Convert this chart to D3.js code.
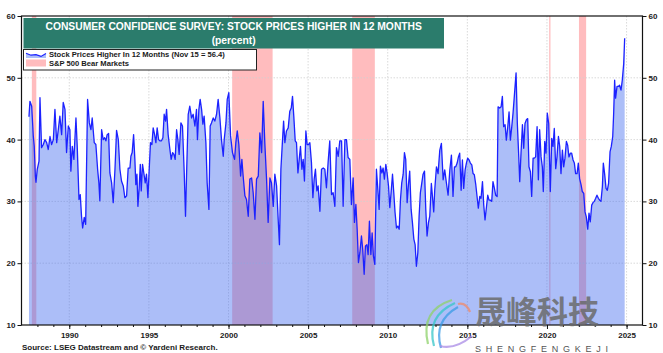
<!DOCTYPE html>
<html>
<head>
<meta charset="utf-8">
<script src="https://cdn.jsdelivr.net/npm/d3@7"></script>
<style>
  html, body { margin: 0; padding: 0; background: #ffffff; }
  svg { display: block; }
  text { font-family: "Liberation Sans", Arial, sans-serif; }
</style>
</head>
<body>
<svg id="chart" width="663" height="353"></svg>
<script>
// ---------------- DATA ----------------
const titleLines = ["CONSUMER CONFIDENCE SURVEY: STOCK PRICES HIGHER IN 12 MONTHS", "(percent)"];
const legendLabels = ["Stock Prices Higher In 12 Months (Nov 15 = 56.4)", "S&P 500 Bear Markets"];
const sourceText = "Source: LSEG Datastream and \u00A9 Yardeni Research.";
const yTicks = [10, 20, 30, 40, 50, 60];
const xTicks = [1990, 1995, 2000, 2005, 2010, 2015, 2020, 2025];
const xTickLabels = ["1990", "1995", "2000", "2005", "2010", "2015", "2020", "2025"];

// S&P 500 bear markets (decimal year start, end)
const bearMarkets = [
  [1987.65, 1987.93],
  [2000.23, 2002.77],
  [2007.77, 2009.19],
  [2020.14, 2020.22],
  [2022.01, 2022.46]
];

// Stock Prices Higher In 12 Months (percent), [decimal year, value]
const stockPricesHigher = [
[1987.47,43.7],[1987.53,46.2],[1987.64,45.4],[1987.74,40.6],[1987.80,38.9],[1987.87,34.1],[1987.91,33.1],[1987.99,35.2],[1988.10,36.5],[1988.16,46.8],[1988.26,38.7],[1988.37,39.2],[1988.47,40.0],[1988.58,39.5],[1988.68,38.4],[1988.79,40.5],[1988.89,39.2],[1989.00,40.0],[1989.10,44.9],[1989.21,39.5],[1989.31,41.6],[1989.41,43.8],[1989.52,40.8],[1989.62,46.0],[1989.73,44.9],[1989.83,37.9],[1989.94,42.2],
[1990.04,41.6],[1990.10,34.9],[1990.19,38.9],[1990.29,36.8],[1990.42,43.5],[1990.50,38.9],[1990.61,30.3],[1990.69,31.1],[1990.77,27.6],[1990.84,25.7],[1990.94,27.4],[1991.03,26.3],[1991.15,46.5],[1991.26,42.7],[1991.36,41.6],[1991.44,43.5],[1991.57,39.5],[1991.67,39.2],[1991.78,35.2],[1991.86,33.0],[1991.92,30.1],
[1992.03,41.6],[1992.13,40.0],[1992.22,40.3],[1992.30,39.8],[1992.38,40.8],[1992.47,41.0],[1992.55,34.6],[1992.66,33.0],[1992.76,29.8],[1992.87,35.2],[1992.97,41.5],[1993.08,40.0],[1993.18,35.2],[1993.28,33.3],[1993.39,32.5],[1993.49,30.6],[1993.60,30.9],[1993.70,35.4],[1993.81,35.4],[1993.87,37.3],[1993.95,37.9],
[1994.04,40.8],[1994.12,36.8],[1994.18,32.7],[1994.25,34.4],[1994.31,29.2],[1994.39,32.2],[1994.46,36.0],[1994.52,31.7],[1994.60,36.0],[1994.71,34.1],[1994.77,33.0],[1994.85,34.4],[1994.94,30.6],[1995.02,35.2],[1995.10,39.5],[1995.19,39.2],[1995.27,41.9],[1995.36,40.8],[1995.44,39.5],[1995.52,41.9],[1995.61,40.0],[1995.69,39.8],[1995.79,39.8],[1995.88,40.3],[1995.96,44.1],
[1996.05,43.0],[1996.11,44.9],[1996.21,40.8],[1996.32,38.4],[1996.40,36.8],[1996.49,37.9],[1996.57,37.6],[1996.65,36.8],[1996.74,41.6],[1996.82,40.0],[1996.90,37.6],[1997.01,42.7],[1997.11,42.2],[1997.22,34.6],[1997.30,27.6],[1997.38,35.7],[1997.47,44.1],[1997.57,45.4],[1997.68,43.5],[1997.78,44.1],[1997.89,42.2],[1997.99,44.9],
[1998.05,40.0],[1998.14,44.9],[1998.22,46.5],[1998.31,44.9],[1998.39,42.5],[1998.47,43.8],[1998.58,39.5],[1998.66,33.0],[1998.77,28.7],[1998.85,42.2],[1998.93,42.7],[1999.04,43.5],[1999.14,43.0],[1999.25,44.1],[1999.35,46.5],[1999.46,43.5],
[1999.56,40.0],[1999.67,37.3],[1999.73,40.0],[1999.84,42.7],[1999.92,46.5],[2000.02,47.6],[2000.13,40.6],[2000.25,37.9],[2000.38,36.8],[2000.46,39.5],[2000.55,41.4],[2000.65,39.2],[2000.76,34.1],[2000.84,36.8],[2000.92,34.1],[2001.03,30.9],[2001.13,30.3],[2001.24,27.6],[2001.34,33.6],[2001.45,33.8],[2001.55,31.4],[2001.66,27.1],[2001.76,33.6],[2001.87,34.1],[2001.97,41.1],
[2002.08,37.9],[2002.18,46.2],[2002.28,39.5],[2002.39,33.6],[2002.49,26.6],[2002.60,33.8],[2002.70,33.0],[2002.81,29.2],[2002.91,34.4],[2003.02,32.5],[2003.12,27.1],[2003.20,23.0],[2003.29,35.2],[2003.37,38.9],[2003.46,43.0],[2003.54,39.5],[2003.64,41.4],[2003.75,41.9],[2003.85,44.6],[2003.94,45.1],
[2004.02,47.0],[2004.10,43.8],[2004.19,39.8],[2004.27,39.5],[2004.36,34.6],[2004.44,36.8],[2004.52,38.9],[2004.61,35.2],[2004.69,36.8],[2004.77,33.3],[2004.86,41.4],[2004.94,39.2],[2005.02,39.2],[2005.11,39.5],[2005.21,36.3],[2005.30,30.6],[2005.38,33.6],[2005.46,35.2],[2005.55,31.7],[2005.63,32.5],[2005.74,28.4],[2005.84,35.2],[2005.95,35.4],
[2006.05,35.2],[2006.15,32.2],[2006.26,36.5],[2006.36,39.8],[2006.47,31.1],[2006.57,31.4],[2006.68,29.2],[2006.78,38.7],[2006.89,37.3],[2006.99,39.8],[2007.10,39.8],[2007.20,29.2],[2007.31,40.0],[2007.41,40.0],[2007.51,37.1],[2007.62,36.8],[2007.72,29.5],[2007.83,33.8],[2007.91,26.6],
[2008.00,29.5],[2008.08,25.5],[2008.16,20.1],[2008.25,21.7],[2008.35,24.4],[2008.43,22.2],[2008.52,18.2],[2008.60,22.8],[2008.69,23.0],[2008.77,21.4],[2008.85,26.8],[2008.94,21.4],[2009.02,24.9],[2009.10,21.2],[2009.19,19.8],[2009.29,35.2],[2009.38,31.9],[2009.46,28.7],[2009.54,35.7],[2009.63,34.6],[2009.71,35.4],[2009.79,33.6],[2009.88,36.0],[2009.96,34.6],
[2010.05,32.5],[2010.13,29.0],[2010.21,31.4],[2010.30,34.4],[2010.38,31.4],[2010.46,28.2],[2010.55,25.7],[2010.63,26.0],[2010.72,25.5],[2010.80,30.3],[2010.88,33.0],[2010.97,34.4],[2011.05,37.9],[2011.13,36.8],[2011.22,29.8],[2011.30,32.7],[2011.38,34.9],[2011.47,28.7],[2011.55,26.6],[2011.64,23.9],[2011.72,23.0],[2011.80,19.5],[2011.89,21.7],[2011.97,27.6],
[2012.05,31.4],[2012.14,33.0],[2012.22,34.4],[2012.31,34.9],[2012.39,28.7],[2012.47,24.4],[2012.56,26.6],[2012.64,27.6],[2012.74,32.9],[2012.89,28.3],[2012.95,31.8],[2013.06,35.6],[2013.16,34.5],[2013.27,38.3],[2013.37,39.4],[2013.48,33.5],[2013.58,35.1],[2013.69,32.9],[2013.79,31.0],[2013.90,35.1],
[2014.00,37.5],[2014.10,30.8],[2014.19,35.6],[2014.27,35.6],[2014.36,36.2],[2014.44,37.2],[2014.52,37.8],[2014.61,31.8],[2014.69,36.7],[2014.77,32.1],[2014.86,35.1],[2014.94,36.2],[2015.02,37.0],[2015.11,36.7],[2015.19,36.2],[2015.28,35.9],[2015.36,34.5],[2015.44,34.3],[2015.53,32.7],[2015.61,30.8],[2015.69,28.9],[2015.78,30.8],[2015.86,30.5],[2015.95,33.2],
[2016.03,29.4],[2016.11,27.0],[2016.20,29.1],[2016.28,31.0],[2016.36,30.2],[2016.45,30.2],[2016.53,30.0],[2016.61,33.2],[2016.70,32.1],[2016.78,31.0],[2016.87,30.8],[2016.93,45.3],[2017.03,45.1],[2017.12,45.3],[2017.20,47.0],[2017.28,42.1],[2017.37,42.4],[2017.45,39.9],[2017.54,42.1],[2017.62,44.5],[2017.70,39.9],[2017.79,42.1],[2017.87,44.3],[2017.95,47.0],
[2018.06,50.8],[2018.14,42.6],[2018.23,37.2],[2018.29,33.2],[2018.37,37.8],[2018.46,42.4],[2018.54,38.6],[2018.62,42.6],[2018.71,43.2],[2018.79,43.4],[2018.87,35.6],[2018.96,34.8],[2019.04,30.8],[2019.13,37.0],[2019.21,37.0],[2019.29,37.2],[2019.38,42.1],[2019.46,33.5],[2019.54,41.6],[2019.63,37.2],[2019.71,35.6],[2019.77,31.6],[2019.86,39.7],[2019.94,37.8],
[2020.02,44.3],[2020.11,42.6],[2020.21,31.6],[2020.30,40.2],[2020.38,38.9],[2020.46,41.8],[2020.55,35.3],[2020.63,37.2],[2020.72,40.5],[2020.80,38.9],[2020.88,34.5],[2020.97,38.3],[2021.05,35.6],[2021.13,37.0],[2021.22,39.7],[2021.30,39.1],[2021.38,37.2],[2021.47,37.8],[2021.55,37.8],[2021.64,36.7],[2021.72,36.2],[2021.80,34.5],[2021.89,34.5],[2021.97,36.2],
[2022.05,33.7],[2022.14,32.7],[2022.22,31.6],[2022.31,31.3],[2022.39,28.3],[2022.47,27.5],[2022.56,25.5],[2022.64,28.1],[2022.72,26.7],[2022.81,29.4],[2022.89,29.8],[2022.97,30.0],[2023.06,30.5],[2023.14,31.0],[2023.23,30.5],[2023.31,30.2],[2023.39,30.0],[2023.48,32.4],[2023.54,36.2],[2023.62,34.5],[2023.71,32.1],[2023.79,31.8],[2023.87,32.9],[2023.96,38.0],
[2024.04,38.9],[2024.13,40.5],[2024.19,44.3],[2024.25,49.6],[2024.31,46.7],[2024.40,48.6],[2024.48,48.6],[2024.56,48.8],[2024.65,48.0],[2024.73,49.6],[2024.82,52.3],[2024.88,56.4]
];

// ---------------- CHART ----------------
const svg = d3.select("#chart");
const plot = { left: 21.5, right: 642.5, top: 16, bottom: 325 };

const x = d3.scaleLinear().domain([1987, 2026]).range([plot.left, plot.right]);
const y = d3.scaleLinear().domain([10, 60]).range([plot.bottom, plot.top]);

const colors = {
  bear: "#ffbcbe",
  areaFill: "rgb(70,110,240)",
  areaOpacity: 0.45,
  line: "#1c22ff",
  grid: "#d0d0d0",
  title: "#2b7c6c",
  text: "#1a1a1a"
};

// bear market bands
svg.append("g").selectAll("rect").data(bearMarkets).join("rect")
  .attr("x", d => x(d[0]))
  .attr("width", d => Math.max(1.2, x(d[1]) - x(d[0])))
  .attr("y", plot.top)
  .attr("height", plot.bottom - plot.top)
  .attr("fill", colors.bear);

// gridlines
const grid = svg.append("g");
grid.selectAll("line.gy").data(yTicks.filter(t => t > 10 && t < 60)).join("line")
  .attr("x1", plot.left).attr("x2", plot.right)
  .attr("y1", d => y(d)).attr("y2", d => y(d))
  .attr("stroke", colors.grid).attr("stroke-width", 0.8).attr("stroke-dasharray", "1.5,1.5");
grid.selectAll("line.gx").data(xTicks).join("line")
  .attr("y1", plot.top).attr("y2", plot.bottom)
  .attr("x1", d => x(d)).attr("x2", d => x(d))
  .attr("stroke", colors.grid).attr("stroke-width", 0.8).attr("stroke-dasharray", "1.5,1.5");

// area + line
const area = d3.area().x(d => x(d[0])).y0(y(10)).y1(d => y(d[1]));
const line = d3.line().x(d => x(d[0])).y(d => y(d[1]));
svg.append("path").datum(stockPricesHigher)
  .attr("d", area).attr("fill", colors.areaFill).attr("fill-opacity", colors.areaOpacity);
svg.append("path").datum(stockPricesHigher)
  .attr("d", line).attr("fill", "none").attr("stroke", colors.line)
  .attr("stroke-width", 1.3).attr("stroke-linejoin", "round");

// frame
svg.append("rect")
  .attr("x", plot.left).attr("y", plot.top)
  .attr("width", plot.right - plot.left).attr("height", plot.bottom - plot.top)
  .attr("fill", "none").attr("stroke", "#111").attr("stroke-width", 1.2);

// axes
function styleAxis(g) {
  g.select(".domain").remove();
  g.selectAll("line").attr("stroke", "#111");
  g.selectAll("text").attr("fill", colors.text).style("font-size", "8px").style("font-weight", "bold")
    .style("font-family", "'Liberation Sans', Arial, sans-serif");
}
svg.append("g").attr("transform", `translate(${plot.left},0)`)
  .call(d3.axisLeft(y).tickValues(yTicks).tickSize(4).tickPadding(2).tickFormat(d3.format("d")))
  .call(styleAxis);
svg.append("g").attr("transform", `translate(${plot.right},0)`)
  .call(d3.axisRight(y).tickValues(yTicks).tickSize(4).tickPadding(2).tickFormat(d3.format("d")))
  .call(styleAxis);
svg.append("g").attr("transform", `translate(0,${plot.bottom})`)
  .call(d3.axisBottom(x).tickValues(d3.range(1988, 2026)).tickSize(2).tickFormat(""))
  .call(styleAxis);
svg.append("g").attr("transform", `translate(0,${plot.bottom})`)
  .call(d3.axisBottom(x).tickValues(xTicks).tickSize(4).tickPadding(3).tickFormat((d, i) => xTickLabels[i]))
  .call(styleAxis);

// title box
const titleG = svg.append("g");
titleG.append("rect").attr("x", 23.5).attr("y", 18).attr("width", 420.5).attr("height", 30.5).attr("fill", colors.title);
titleG.append("text").attr("x", 233.7).attr("y", 29.8).attr("text-anchor", "middle")
  .attr("fill", "#fff").style("font-size", "10.3px").style("font-weight", "bold").text(titleLines[0]);
titleG.append("text").attr("x", 233.7).attr("y", 43.6).attr("text-anchor", "middle")
  .attr("fill", "#fff").style("font-size", "10.3px").style("font-weight", "bold").text(titleLines[1]);

// legend
const legG = svg.append("g");
legG.append("rect").attr("x", 23.5).attr("y", 49.5).attr("width", 233).attr("height", 20.5)
  .attr("fill", "#fff").attr("stroke", "#222").attr("stroke-width", 1);
const sw = d3.scaleLinear().domain([0, 4]).range([26, 46]);
const swatchPts = [[0, 53.2], [1, 55.2], [2, 54.6], [3, 56.4], [4, 53.4]];
legG.append("path").datum(swatchPts)
  .attr("d", d3.area().x(d => sw(d[0])).y0(58).y1(d => d[1]))
  .attr("fill", colors.areaFill).attr("fill-opacity", colors.areaOpacity);
legG.append("path").datum(swatchPts)
  .attr("d", d3.line().x(d => sw(d[0])).y(d => d[1]))
  .attr("fill", "none").attr("stroke", colors.line).attr("stroke-width", 1.2);
legG.append("rect").attr("x", 26).attr("y", 59.5).attr("width", 20).attr("height", 7).attr("fill", colors.bear);
legG.append("text").attr("x", 49).attr("y", 57).attr("fill", colors.text)
  .style("font-size", "7.6px").style("font-weight", "bold").text(legendLabels[0]);
legG.append("text").attr("x", 49).attr("y", 65.6).attr("fill", colors.text)
  .style("font-size", "7.6px").style("font-weight", "bold").text(legendLabels[1]);

// source
svg.append("text").attr("x", 22).attr("y", 349.5).attr("fill", colors.text)
  .style("font-size", "8px").style("font-weight", "bold").text(sourceText);

// watermark (as in reference image)
const wm = svg.append("g");
const swirl = [
  { d: "M452,300 Q420,310 428,344", c: "#8ed16a" },
  { d: "M455,303 Q426,316 434,346", c: "#36c6c8" },
  { d: "M458,307 Q433,321 441,348", c: "#3a9be6" },
  { d: "M440,346 Q455,350 472,336", c: "#a98be6" },
  { d: "M458,304 Q466,302 470,312", c: "#f08a6a" }
];
wm.selectAll("path").data(swirl).join("path")
  .attr("d", d => d.d).attr("fill", "none").attr("stroke", d => d.c)
  .attr("stroke-width", 2.2).attr("stroke-opacity", 0.75);
wm.append("text").attr("x", 475).attr("y", 323)
  .style("font-family", "'Noto Sans CJK SC', sans-serif").style("font-size", "31px").style("font-weight", "bold")
  .attr("fill", "#6a6a6a").attr("fill-opacity", 0.85).text("晟峰科技");
wm.append("text").attr("x", 475).attr("y", 352)
  .attr("textLength", 133).attr("lengthAdjust", "spacing")
  .style("font-size", "9px").attr("fill", "#555").text("SHENGFENGKEJI");
</script>
</body>
</html>
